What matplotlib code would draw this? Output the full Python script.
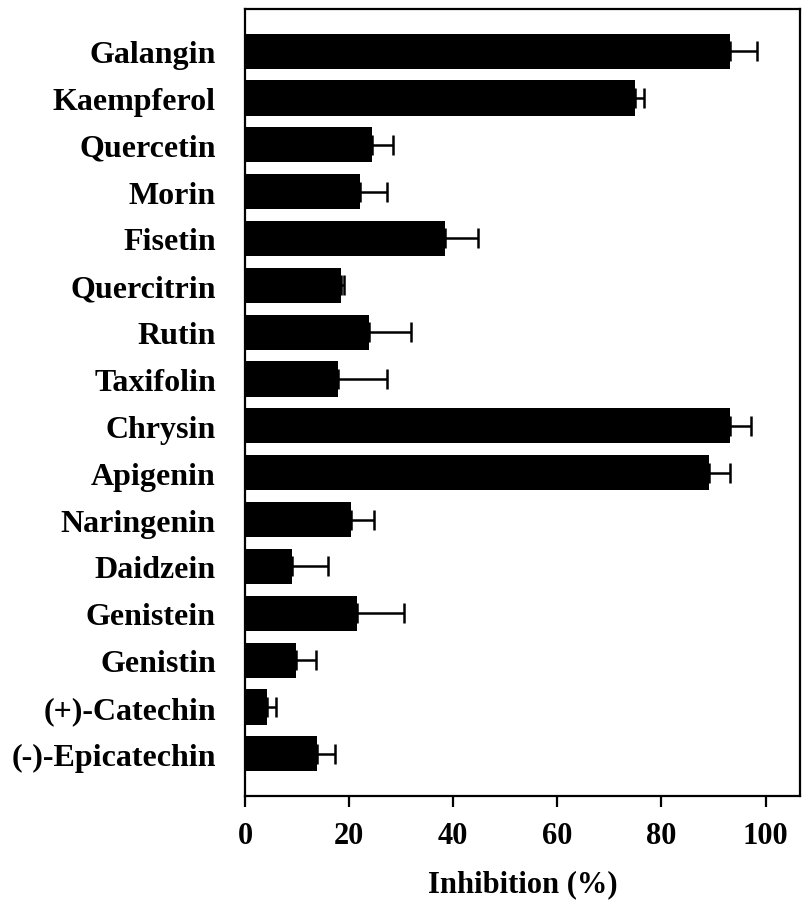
import matplotlib
matplotlib.use("Agg")
import matplotlib.pyplot as plt
import numpy as np

compounds = ["Galangin", "Kaempferol", "Quercetin", "Morin", "Fisetin", "Quercitrin",
             "Rutin", "Taxifolin", "Chrysin", "Apigenin", "Naringenin", "Daidzein",
             "Genistein", "Genistin", "(+)-Catechin", "(-)-Epicatechin"]
inhibition = [93.1, 75.0, 24.4, 22.1, 38.5, 18.5, 23.9, 17.9, 93.1, 89.1, 20.3, 9.1,
              21.5, 9.7, 4.3, 13.9]
errors = [5.2, 1.6, 4.0, 5.1, 6.3, 0.5, 8.0, 9.3, 4.2, 4.0, 4.5, 6.8, 9.1, 4.0, 1.6, 3.3]
xticks = [0, 20, 40, 60, 80, 100]

plt.rcParams['font.family'] = ['Liberation Serif', 'DejaVu Serif']
plt.rcParams['font.weight'] = 'bold'

fig = plt.figure(figsize=(8.02, 9.03), dpi=100)
ax = fig.add_axes([0.3055, 0.1174, 0.6925, 0.8716])

pos = np.arange(len(compounds))
ax.barh(pos, inhibition, height=0.75, color='black', edgecolor='none',
        xerr=[np.zeros(len(errors)), errors],
        error_kw=dict(ecolor='black', elinewidth=1.8, capsize=7.5, capthick=1.8))

ax.set_ylim(len(compounds) - 0.1, -0.9)
ax.set_xlim(0, 106.7)
ax.set_yticks(pos)
ax.set_yticklabels(compounds, fontsize=23, fontweight='bold')
ax.set_xticks(xticks)
ax.set_xticklabels([str(t) for t in xticks], fontsize=22, fontweight='bold')
ax.tick_params(axis='y', length=0, pad=21)
ax.tick_params(axis='x', length=8, width=1.6, pad=10)
for s in ax.spines.values():
    s.set_linewidth(1.6)
ax.set_xlabel("Inhibition (%)", fontsize=22, fontweight='bold', labelpad=14)

fig.savefig("out.png", dpi=100)
